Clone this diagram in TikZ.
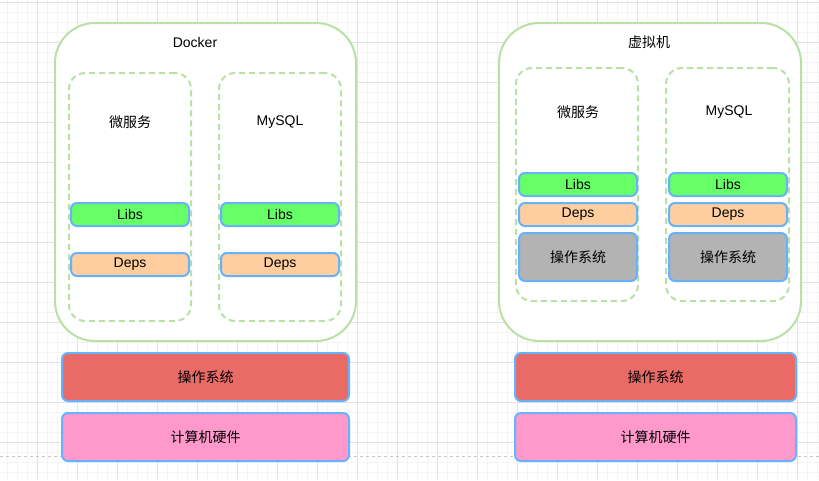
\documentclass[tikz,border=0pt]{standalone}
\usepackage{fontspec}
\setmainfont{Liberation Sans}
\newfontfamily\cjk{Noto Sans CJK SC}
\definecolor{gmajor}{HTML}{E3E3E3}
\definecolor{gminor}{HTML}{F4F4F4}
\definecolor{grborder}{HTML}{B9E0A5}
\definecolor{blborder}{HTML}{66B2FF}
\definecolor{libsfill}{HTML}{66FF66}
\definecolor{depsfill}{HTML}{FFCE9F}
\definecolor{osfill}{HTML}{EA6B66}
\definecolor{hwfill}{HTML}{FF99CC}
\definecolor{vmosfill}{HTML}{B3B3B3}
\definecolor{dashline}{HTML}{C8C8C8}
\tikzset{
  outerbox/.style={draw=grborder, line width=2pt, fill=white, rounded corners=40pt, inner sep=0pt},
  innerbox/.style={draw=grborder, line width=2pt, dash pattern=on 6pt off 4pt, fill=white, rounded corners=16pt, inner sep=0pt},
  layer/.style={draw=blborder, line width=2pt, rounded corners=6pt, inner sep=0pt, font=\fontsize{14}{16}\selectfont},
  txt/.style={font=\fontsize{14}{16}\selectfont, inner sep=0pt}
}
\begin{document}
\begin{tikzpicture}[x=1pt,y=-1pt]
\useasboundingbox (0,0) rectangle (819,480);
\fill[white] (0,0) rectangle (819,480);
% grid
\foreach \x in {7.5,17.5,...,817.5} \draw[gminor, line width=1pt] (\x,0) -- (\x,480);
\foreach \y in {2.5,12.5,...,477.5} \draw[gminor, line width=1pt] (0,\y) -- (819,\y);
\foreach \x in {37.5,77.5,...,797.5} \draw[gmajor, line width=1pt] (\x,0) -- (\x,480);
\foreach \y in {2.5,42.5,...,442.5} \draw[gmajor, line width=1pt] (0,\y) -- (819,\y);
\draw[dashline, line width=1pt, dash pattern=on 3pt off 3pt] (0,456.5) -- (819,456.5);

% Docker side
\node[outerbox, minimum width=301pt, minimum height=318pt] (dk) at (205.5,182) {};
\node[txt] (dklbl) at (195,42) {Docker};
\node[innerbox, minimum width=122pt, minimum height=248pt] (dkin1) at (130,197) {};
\node[innerbox, minimum width=122pt, minimum height=248pt] (dkin2) at (280,197) {};
\node[txt] (dkms) at (130,122) {\cjk 微服务};
\node[txt] (dkmy) at (280,122) {MySQL};
\node[layer, fill=libsfill, minimum width=118pt, minimum height=23pt] (dklibs1) at (130,214.5) {Libs};
\node[layer, fill=libsfill, minimum width=118pt, minimum height=23pt] (dklibs2) at (280,214.5) {Libs};
\node[layer, fill=depsfill, minimum width=118pt, minimum height=23pt] (dkdeps1) at (130,264.5) {Deps};
\node[layer, fill=depsfill, minimum width=118pt, minimum height=23pt] (dkdeps2) at (280,264.5) {Deps};
\node[layer, fill=osfill, minimum width=287pt, minimum height=48pt] (dkos) at (205.5,377) {\cjk 操作系统};
\node[layer, fill=hwfill, minimum width=287pt, minimum height=48pt] (dkhw) at (205.5,437) {\cjk 计算机硬件};

% VM side
\node[outerbox, minimum width=302pt, minimum height=318pt] (vm) at (650,182) {};
\node[txt] (vmlbl) at (649,42) {\cjk 虚拟机};
\node[innerbox, minimum width=122pt, minimum height=233pt] (vmin1) at (577,184.5) {};
\node[innerbox, minimum width=123pt, minimum height=233pt] (vmin2) at (727.5,184.5) {};
\node[txt] (vmms) at (578,112) {\cjk 微服务};
\node[txt] (vmmy) at (729,112) {MySQL};
\node[layer, fill=libsfill, minimum width=118pt, minimum height=23pt] (vmlibs1) at (578,184.5) {Libs};
\node[layer, fill=libsfill, minimum width=118pt, minimum height=23pt] (vmlibs2) at (728,184.5) {Libs};
\node[layer, fill=depsfill, minimum width=118pt, minimum height=23pt] (vmdeps1) at (578,214.5) {Deps};
\node[layer, fill=depsfill, minimum width=118pt, minimum height=23pt] (vmdeps2) at (728,214.5) {Deps};
\node[layer, fill=vmosfill, minimum width=118pt, minimum height=48pt] (vmgos1) at (578,257) {\cjk 操作系统};
\node[layer, fill=vmosfill, minimum width=118pt, minimum height=48pt] (vmgos2) at (728,257) {\cjk 操作系统};
\node[layer, fill=osfill, minimum width=281pt, minimum height=48pt] (vmos) at (655.5,377) {\cjk 操作系统};
\node[layer, fill=hwfill, minimum width=281pt, minimum height=48pt] (vmhw) at (655.5,437) {\cjk 计算机硬件};
\end{tikzpicture}
\end{document}
